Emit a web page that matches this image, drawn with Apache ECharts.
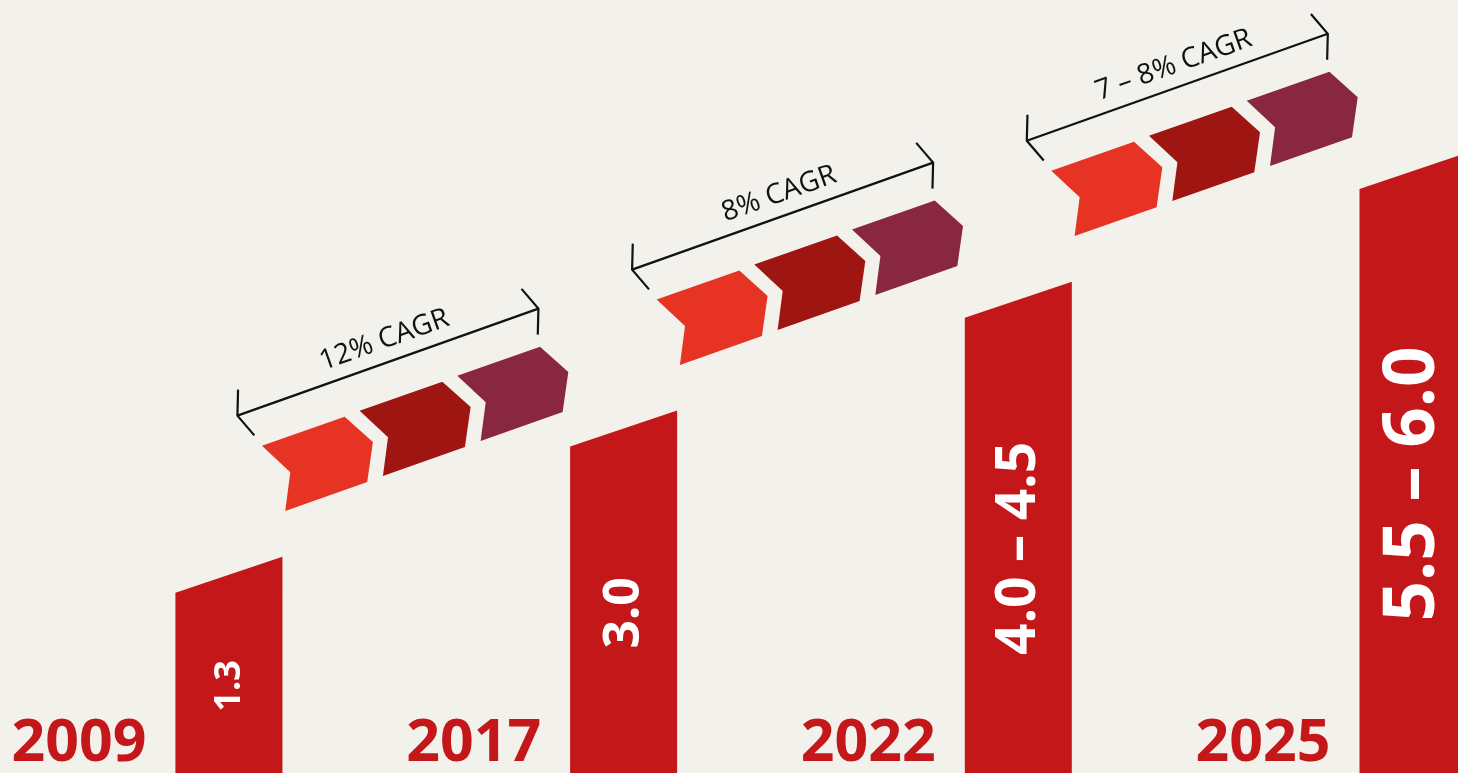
<!DOCTYPE html>
<html>
<head>
<meta charset="utf-8">
<title>Growth 2009 – 2025</title>
<script src="https://cdn.jsdelivr.net/npm/echarts@6/dist/echarts.min.js"></script>
<style>
  html, body { margin: 0; padding: 0; background: #f3f1ec; }
  #chart { width: 1458px; height: 773px; }
</style>
</head>
<body>
<div id="chart"></div>
<script>
// ---- data ----
const years = ['2009', '2017', '2022', '2025'];
const lowValues = [1.3, 3.0, 4.0, 5.5];
const highValues = [1.3, 3.0, 4.5, 6.0];
const cagrLow = [12, 8, 7];
const cagrHigh = [12, 8, 8];

// ---- helpers ----
function rangeText(lo, hi, digits, suffix) {
  const a = lo.toFixed(digits), b = hi.toFixed(digits);
  return (a === b ? a : a + ' – ' + b) + (suffix || '');
}
const valueLabels = years.map((_, i) => rangeText(lowValues[i], highValues[i], 1));
const cagrLabels = cagrLow.map((lo, i) =>
  (lo === cagrHigh[i] ? lo + '%' : lo + ' – ' + cagrHigh[i] + '%') + ' CAGR');

// ---- styling ----
const X_MIN = -0.58, X_MAX = 3.114;   // year index scale; last bar runs off the right edge
const Y_MIN = -0.8, Y_MAX = 8.2;
const BAR_RED = '#c4171a';
const BAR_W = 107;
const BAR_RISE = 36;               // slanted top edge
const LABEL_FONT = [36, 50, 55, 71];
const CHEVRON_COLORS = ['#e63323', '#9e1511', '#8a2740'];
const FONT = '"Open Sans", "Noto Sans", sans-serif';

function renderBar(params, api) {
  const i = params.dataIndex;
  const top = api.coord([api.value(0), api.value(1)]);
  const base = api.coord([api.value(0), Y_MIN]);
  const x0 = top[0] - BAR_W / 2, x1 = top[0] + BAR_W / 2;
  return {
    type: 'group',
    children: [
      {
        type: 'polygon',
        shape: { points: [[x0, base[1]], [x1, base[1]], [x1, top[1] - BAR_RISE], [x0, top[1]]] },
        style: { fill: BAR_RED }
      },
      {
        type: 'text',
        x: top[0] + 1, y: (base[1] + top[1]) / 2 + 3,
        rotation: Math.PI / 2,
        style: {
          text: valueLabels[i], fill: '#ffffff',
          font: 'bold ' + LABEL_FONT[i] + 'px ' + FONT,
          align: 'center', verticalAlign: 'middle'
        }
      },
      {
        type: 'text',
        x: x0 - 29, y: base[1] - 29,
        style: {
          text: years[i], fill: BAR_RED,
          font: 'bold 59px ' + FONT,
          align: 'right', verticalAlign: 'middle'
        }
      }
    ]
  };
}

// chevron outline relative to its upper tail corner
const CHEVRON = [[0, 0], [82.7, -29], [111, -3.6], [105.3, 36.4], [23.3, 65.3], [28.4, 26.5]];
const CHEVRON_STEP = [97.7, -35];

function renderGap(params, api) {
  const i = params.dataIndex;
  const top = api.coord([i, highValues[i]]);
  const ax = top[0] - BAR_W / 2 + 86.5;
  const ay = top[1] - 147;
  const children = [];
  CHEVRON_COLORS.forEach((c, k) => {
    const ox = ax + CHEVRON_STEP[0] * k, oy = ay + CHEVRON_STEP[1] * k;
    children.push({
      type: 'polygon',
      shape: { points: CHEVRON.map(p => [ox + p[0], oy + p[1]]) },
      style: { fill: c }
    });
  });
  // span bracket with open arrowheads
  const L = [ax - 24.5, ay - 30], R = [ax + 276.5, ay - 137];
  const dx = R[0] - L[0], dy = R[1] - L[1];
  const len = Math.hypot(dx, dy);
  const u = [dx / len, dy / len];
  const ang = 69 * Math.PI / 180, arm = 26;
  function rot(v, a) { return [v[0] * Math.cos(a) - v[1] * Math.sin(a), v[0] * Math.sin(a) + v[1] * Math.cos(a)]; }
  const la = rot(u, -ang), lb = rot(u, ang);
  const nu = [-u[0], -u[1]];
  const ra = rot(nu, -ang), rb = rot(nu, ang);
  const lineStyle = { stroke: '#111111', lineWidth: 2.2, fill: null };
  children.push({ type: 'polyline', shape: { points: [L, R] }, style: lineStyle });
  children.push({ type: 'polyline', shape: { points: [[L[0] + la[0] * arm, L[1] + la[1] * arm], L, [L[0] + lb[0] * arm, L[1] + lb[1] * arm]] }, style: lineStyle });
  children.push({ type: 'polyline', shape: { points: [[R[0] + ra[0] * arm, R[1] + ra[1] * arm], R, [R[0] + rb[0] * arm, R[1] + rb[1] * arm]] }, style: lineStyle });
  const n = [u[1], -u[0]];   // normal pointing above the line
  const mx = (L[0] + R[0]) / 2 + n[0] * 22 + u[0] * 4;
  const my = (L[1] + R[1]) / 2 + n[1] * 22 + u[1] * 4;
  children.push({
    type: 'text', x: mx, y: my,
    rotation: Math.atan2(-dy, dx),
    style: {
      text: cagrLabels[i], fill: '#111111',
      font: '28px ' + FONT, align: 'center', verticalAlign: 'middle'
    }
  });
  return { type: 'group', children };
}

const chart = echarts.init(document.getElementById('chart'), null, { renderer: 'canvas' });
chart.setOption({
  backgroundColor: '#f3f1ec',
  animation: false,
  grid: { left: 0, right: 0, top: 0, bottom: 0 },
  xAxis: { type: 'value', min: X_MIN, max: X_MAX, show: false },
  yAxis: { type: 'value', min: Y_MIN, max: Y_MAX, show: false },
  series: [
    {
      type: 'custom', name: 'bars', clip: false,
      renderItem: renderBar,
      data: years.map((_, i) => [i, highValues[i]])
    },
    {
      type: 'custom', name: 'growth', clip: false,
      renderItem: renderGap,
      data: cagrLabels.map((_, i) => [i, highValues[i]])
    }
  ]
});
</script>
</body>
</html>
